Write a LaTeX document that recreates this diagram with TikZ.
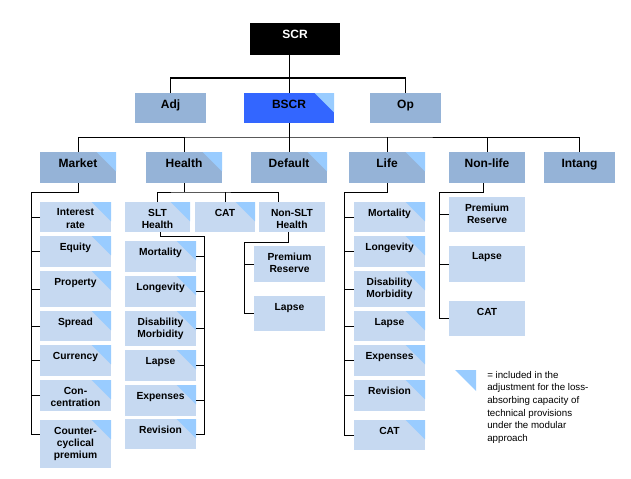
\documentclass[tikz,border=0pt]{standalone}
\usepackage{fontspec}
\setmainfont{Liberation Sans}
\usepackage{xcolor}
\usetikzlibrary{calc}
\usetikzlibrary{fit}

\definecolor{scrblue}{HTML}{3366FF}
\definecolor{midblue}{HTML}{95B3D7}
\definecolor{paleblue}{HTML}{C6D9F1}
\definecolor{cornerblue}{HTML}{99CCFF}

\tikzset{
  modbox/.style={inner sep=0pt, outer sep=0pt},
  mainmod/.style={modbox, fill=midblue},
  submod/.style={modbox, fill=paleblue},
  adjusted/.style={path picture={
    \fill[cornerblue] ([xshift=-14.5pt]path picture bounding box.north east)
      -- (path picture bounding box.north east)
      -- ([yshift=-14.5pt]path picture bounding box.north east) -- cycle;}},
  bigtxt/.style={font=\fontsize{9}{11}\selectfont\bfseries, yshift=-5pt},
  smalltxt/.style={font=\fontsize{7.7}{9.2}\selectfont\bfseries, yshift=-5pt},
  link/.style={draw, line width=0.75pt}
}

% box style, corner, corner, name, text style, text
\newcommand{\riskbox}[6]{%
  \node[#1, fit={(#2) (#3)}] (#4) {};
  \node[anchor=north, align=center, inner sep=0pt, #5] at (#4.north) {#6};
}

\begin{document}
\begin{tikzpicture}[x=0.75pt,y=-0.75pt]

      \useasboundingbox (0,0) rectangle (631,478);

      % top of the tree
      \riskbox{modbox, fill=black}{250,23}{340,55}{scr}{bigtxt, text=white}{SCR}
      \riskbox{mainmod}{135,93}{206,123}{adj}{bigtxt}{Adj}
      \riskbox{modbox, fill=scrblue, adjusted}{244,93}{334,123}{bscr}{bigtxt}{BSCR}
      \riskbox{mainmod}{370,93}{441,123}{op}{bigtxt}{Op}

      \coordinate (toprail) at (289,78);
      \draw[link] (bscr.north |- scr.south) -- (bscr.north);
      \draw[link] (adj.north) |- (toprail) -| (op.north);

      % modules
      \riskbox{mainmod, adjusted}{40,152}{116,183}{market}{bigtxt}{Market}
      \riskbox{mainmod, adjusted}{146,152}{222,183}{health}{bigtxt}{Health}
      \riskbox{mainmod, adjusted}{251,152}{327,183}{default}{bigtxt}{Default}
      \riskbox{mainmod, adjusted}{349,152}{425,183}{life}{bigtxt}{Life}
      \riskbox{mainmod}{449,152}{525,183}{nonlife}{bigtxt}{Non-life}
      \riskbox{mainmod}{544,152}{615,183}{intang}{bigtxt}{Intang}

      \coordinate (modrail) at (289,137);
      \draw[link] (bscr.south) -- (default.north);
      \draw[link] (market.north) |- (modrail) -| (intang.north);
      \foreach \m in {health,life,nonlife}
        \draw[link] (\m.north) -- (\m.north |- modrail);

      % market
      \foreach \nm/\ya/\yb/\txt in {mk1/202/232/{Interest\\rate}, mk2/236/267/Equity,
          mk3/271/307/Property, mk4/311/341/Spread, mk5/345/376/Currency,
          mk6/380/411/{Con-\\centration}, mk7/420/468/{Counter-\\cyclical\\premium}}
        {\riskbox{submod, adjusted}{40,\ya}{111,\yb}{\nm}{smalltxt}{\txt}}

      \coordinate (mkspine) at (31,192);
      \draw[link] (market.south) |- (mkspine) |- ([yshift=7.5pt]mk7.west);
      \foreach \k in {1,...,6}
        \draw[link] (mk\k.west) -- (mk\k.west -| mkspine);

      % health
      \riskbox{submod, adjusted}{125,202}{190,232}{slt}{smalltxt}{SLT\\Health}
      \riskbox{submod, adjusted}{195,202}{255,232}{hcat}{smalltxt}{CAT}
      \riskbox{submod}{259,202}{325,232}{nonslt}{smalltxt}{Non-SLT\\Health}

      \coordinate (hrail) at (184,192);
      \draw[link] (health.south) -- (hrail);
      \draw[link] (slt.north) |- (hrail) -| ([xshift=-10pt]nonslt.north);
      \draw[link] (hcat.north) -- (hcat.north |- hrail);

      \foreach \nm/\ya/\yb/\txt in {slt1/241/272/Mortality, slt2/276/307/Longevity,
          slt3/311/346/{Disability\\Morbidity}, slt4/350/381/Lapse,
          slt5/385/416/Expenses, slt6/419/449/Revision}
        {\riskbox{submod, adjusted}{125,\ya}{196,\yb}{\nm}{smalltxt}{\txt}}

      \coordinate (sltspine) at (204,236);
      \draw[link] ([xshift=2.5pt]slt.south) |- (sltspine) |- (slt6.east);
      \foreach \k in {1,...,5}
        \draw[link] (slt\k.east) -- (slt\k.east -| sltspine);

      \riskbox{submod}{254,246}{325,282}{nslt1}{smalltxt}{Premium\\Reserve}
      \riskbox{submod}{254,296}{325,331}{nslt2}{smalltxt}{Lapse}

      \coordinate (nsltspine) at (244,242);
      \draw[link] ([xshift=-2.5pt]nonslt.south) |- (nsltspine) |- (nslt2.west);
      \draw[link] (nslt1.west) -- (nslt1.west -| nsltspine);

      % life
      \foreach \nm/\ya/\yb/\txt in {lf1/202/232/Mortality, lf2/236/267/Longevity,
          lf3/271/307/{Disability\\Morbidity}, lf4/311/341/Lapse, lf5/345/376/Expenses,
          lf6/380/411/Revision, lf7/420/450/CAT}
        {\riskbox{submod, adjusted}{354,\ya}{425,\yb}{\nm}{smalltxt}{\txt}}

      \coordinate (lfspine) at (344,192);
      \draw[link] (life.south) |- (lfspine) |- (lf7.west);
      \foreach \k in {1,...,6}
        \draw[link] (lf\k.west) -- (lf\k.west -| lfspine);

      % non-life
      \foreach \nm/\ya/\yb/\txt in {nl1/197/232/{Premium\\Reserve}, nl2/246/282/Lapse,
          nl3/301/336/CAT}
        {\riskbox{submod}{449,\ya}{525,\yb}{\nm}{smalltxt}{\txt}}

      \coordinate (nlspine) at (439,192);
      \draw[link] ([xshift=-2.5pt]nonlife.south) |- (nlspine) |- (nl3.west);
      \foreach \k in {1,2}
        \draw[link] (nl\k.west) -- (nl\k.west -| nlspine);

      % legend
      \fill[cornerblue] (455,370) -- (476,370) -- (476,391) -- cycle;
      \node[anchor=north west, align=left, inner sep=0pt,
        font=\fontsize{7.3}{9.5}\selectfont] (legend) at (487,371)
        {= included in the\\adjustment for the loss-\\absorbing capacity of\\technical provisions\\under the modular\\approach};

    \end{tikzpicture}
\end{document}
